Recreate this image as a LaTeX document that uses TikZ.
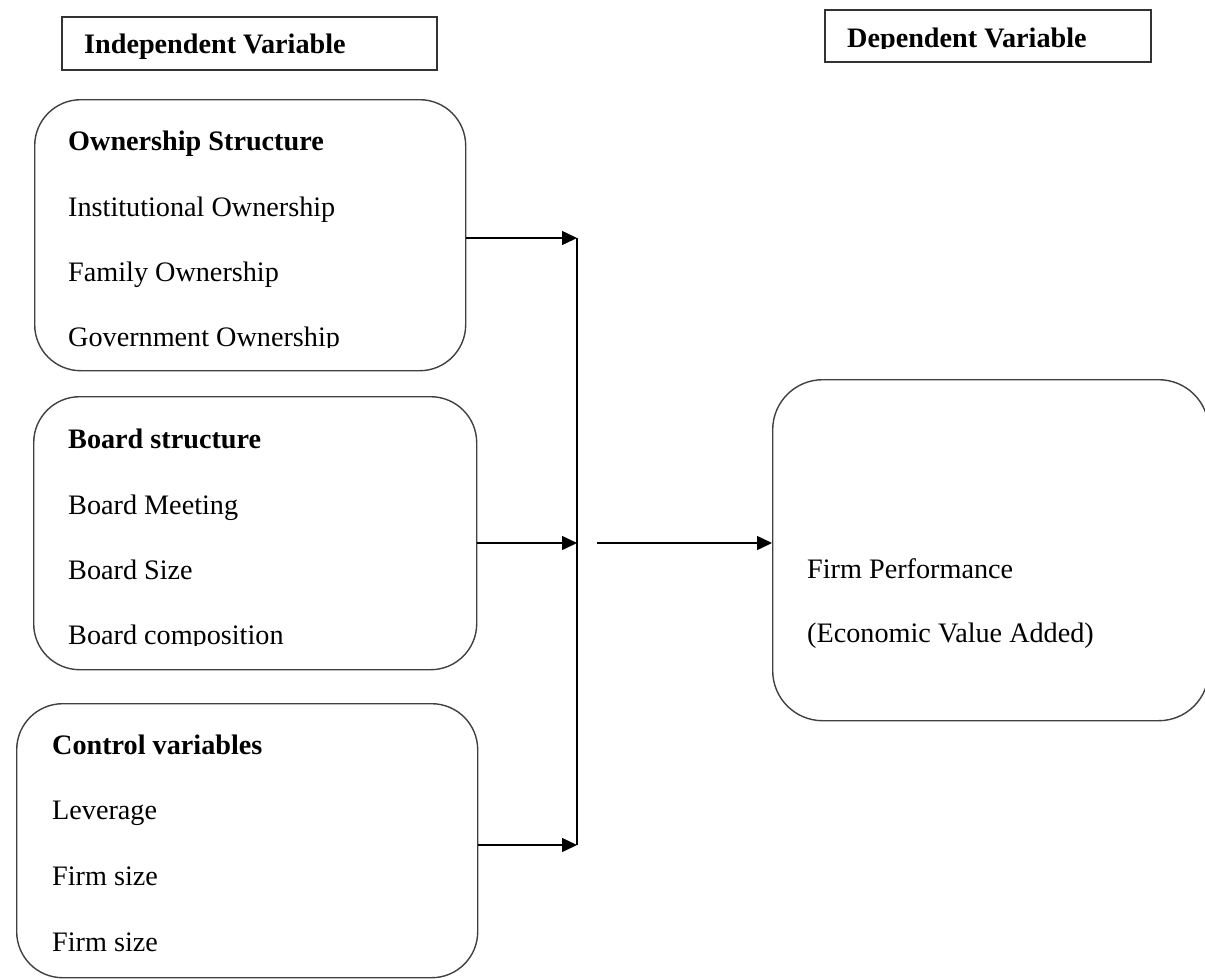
\documentclass[tikz,border=0pt]{standalone}
\usepackage{fontspec}
\setmainfont{Liberation Serif}
\usetikzlibrary{arrows.meta}
\begin{document}
\begin{tikzpicture}[x=1pt,y=-1pt,
  txt/.style={anchor=base west, inner sep=0pt, font=\fontsize{28.2}{34}\selectfont},
  btxt/.style={txt, font=\fontsize{28.2}{34}\selectfont\bfseries},
  hdr/.style={draw=black!80, line width=1.5pt, inner sep=0pt, anchor=north west},
  rbox/.style={draw=black!75, line width=1.4pt, rounded corners=46pt, inner sep=0pt, anchor=north west},
  link/.style={black, line width=1.5pt},
  conn/.style={link, -{Triangle[length=15pt,width=14pt]}},
]
\useasboundingbox[fill=white] (0,0) rectangle (1205,978);

% header boxes
\node[hdr, minimum width=375pt, minimum height=53pt] (indep) at (61,16) {};
\node[btxt] (indeplbl) at (84,53) {Independent Variable};
\node[hdr, minimum width=326pt, minimum height=52pt] (dep) at (824,9) {};
\begin{scope}
  \clip (830,20) rectangle (1145,48);
  \node[btxt] (deplbl) at (847,47) {Dependent Variable};
\end{scope}

% ownership structure
\node[rbox, minimum width=431pt, minimum height=271pt] (box1) at (34,99) {};
\node[btxt] (o0) at (68,150) {Ownership Structure};
\node[txt] (o1) at (68,216) {Institutional Ownership};
\node[txt] (o2) at (68,281) {Family Ownership};
\begin{scope}
  \clip (50,310) rectangle (460,347);
  \node[txt] (o3) at (68,346) {Government Ownership};
\end{scope}

% board structure
\node[rbox, minimum width=443pt, minimum height=273pt] (box2) at (33,396) {};
\node[btxt] (b0) at (68,448) {Board structure};
\node[txt] (b1) at (68,514) {Board Meeting};
\node[txt] (b2) at (68,579) {Board Size};
\begin{scope}
  \clip (50,610) rectangle (460,645);
  \node[txt] (b3) at (68,644) {Board composition};
\end{scope}

% control variables
\node[rbox, minimum width=461pt, minimum height=274pt] (box3) at (16,703) {};
\node[btxt] (c0) at (52,754) {Control variables};
\node[txt] (c1) at (52,819) {Leverage};
\node[txt] (c2) at (52,885) {Firm size};
\node[txt] (c3) at (52,951) {Firm size};

% firm performance
\node[rbox, rounded corners=50pt, minimum width=436pt, minimum height=341pt] (fp) at (772,379) {};
\node[txt] (f1) at (807,578) {Firm Performance};
\node[txt] (f2) at (807,642) {(Economic Value Added)};

% connectors
\coordinate (j1) at (577,238);
\coordinate (j2) at (577,543);
\coordinate (j3) at (577,845);
\coordinate (s) at (597,543);
\draw[link] (j1) -- (j3);
\draw[conn] (box1.east |- j1) -- (j1);
\draw[conn] (box2.east |- j2) -- (j2);
\draw[conn] (box3.east |- j3) -- (j3);
\draw[conn] (s) -- (fp.west |- s);
\end{tikzpicture}
\end{document}
